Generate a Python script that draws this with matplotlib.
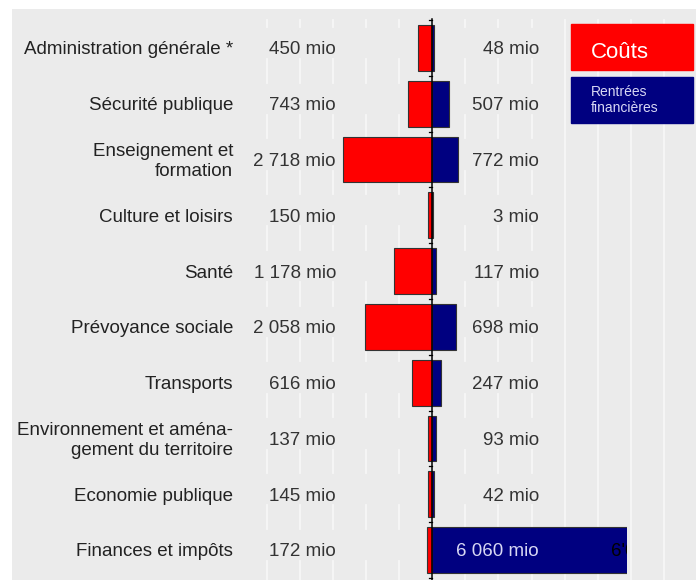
import matplotlib
matplotlib.use("Agg")
import matplotlib.pyplot as plt
from matplotlib.patches import Rectangle

plt.rcParams['font.family'] = ['Liberation Sans', 'DejaVu Sans']

categories = ["Administration générale *", "Sécurité publique", "Enseignement et\nformation",
              "Culture et loisirs", "Santé", "Prévoyance sociale", "Transports",
              "Environnement et aména-\ngement du territoire", "Economie publique",
              "Finances et impôts"]
couts = [450, 743, 2718, 150, 1178, 2058, 616, 137, 145, 172]
rentrees = [48, 507, 772, 3, 117, 698, 247, 93, 42, 6060]
couts_labels = ["450 mio", "743 mio", "2 718 mio", "150 mio", "1 178 mio", "2 058 mio",
                "616 mio", "137 mio", "145 mio", "172 mio"]
rentrees_labels = ["48 mio", "507 mio", "772 mio", "3 mio", "117 mio", "698 mio",
                   "247 mio", "93 mio", "42 mio", "6 060 mio"]

W, H = 696, 580
fig = plt.figure(figsize=(W / 100, H / 100), dpi=100)
ax = fig.add_axes([12 / W, 0, (W - 12) / W, (H - 9) / H])
ax.set_facecolor('#ebebeb')

# pixel mapping: centre at 432.5 px, 33 px per 1000 mio, rows every 55.8 px
px = 33 / 1000
ax.set_xlim((12 - 432.5) / px, (W - 432.5) / px)
ax.set_ylim((H - 48) / 55.78, (9 - 48) / 55.78)
ax.set_xticks([])
ax.set_yticks([])
for s in ax.spines.values():
    s.set_visible(False)

n = len(categories)
ypos = list(range(n))

# white grid lines, interrupted behind value labels
for k in range(-5, 8):
    if k == 0:
        continue
    x = k * 1000
    if k <= 3:
        starts = [-0.5] + [i + 0.2 for i in ypos]
        ends = [i - 0.38 for i in ypos] + [10]
        for s, e in zip(starts, ends):
            ax.plot([x, x], [s, e], color='#f7f7f7', lw=1.3, zorder=1)
    else:
        ax.plot([x, x], [-0.5, 10], color='#f7f7f7', lw=1.3, zorder=1)

# clip for the last (overflowing) row
clip = Rectangle((-13000, -2), 13000 + (627 - 432.5) / px, 14, transform=ax.transData)

h = 0.82
ax.barh(ypos, [-c for c in couts], height=h, color='#ff0000', edgecolor='#333333',
        linewidth=0.8, zorder=3)
bars = ax.barh(ypos, rentrees, height=h, color='#000080', edgecolor='#333333',
               linewidth=0.8, zorder=3)
for b in bars:
    b.set_clip_path(clip)

# centre axis with small ticks
ax.plot([0, 0], [-0.52, 10], color='black', lw=1.1, zorder=4)
for i in range(n + 1):
    ax.plot([-120, 0], [i - 0.5, i - 0.5], color='black', lw=0.9, zorder=4)

dy = 0.035
for i in ypos:
    ax.text((233 - 432.5) / px, i + dy, categories[i], ha='right', va='center',
            fontsize=13.5, color='#222222', zorder=5)
    ax.text((336 - 432.5) / px, i + dy, couts_labels[i], ha='right', va='center',
            fontsize=13.5, color='#333333', zorder=5)
    col = '#d8d8f4' if rentrees[i] > 3000 else '#333333'
    ax.text((539 - 432.5) / px, i + dy, rentrees_labels[i], ha='right', va='center',
            fontsize=13.5, color=col, zorder=5)

t = ax.text((611 - 432.5) / px, n - 1 + dy, "6'060", ha='left', va='center',
            fontsize=13.5, color='black', zorder=5, clip_on=True)
t.set_clip_path(clip)


# legend boxes in pixel coordinates
def fig_rect(x0, y0, x1, y1, color):
    fig.add_artist(Rectangle((x0 / W, 1 - y1 / H), (x1 - x0) / W, (y1 - y0) / H,
                             transform=fig.transFigure, color=color, zorder=10))


fig_rect(571, 24, 693, 70, '#ff0000')
fig_rect(571, 77, 693, 123, '#000080')
fig.text(591 / W, 1 - 52 / H, "Coûts", ha='left', va='center', fontsize=16,
         color='white', zorder=11)
fig.text(591 / W, 1 - 100 / H, "Rentrées\nfinancières", ha='left', va='center',
         fontsize=10, color='#d8d8f4', zorder=11, linespacing=1.15)

fig.savefig('out.png', dpi=100)
